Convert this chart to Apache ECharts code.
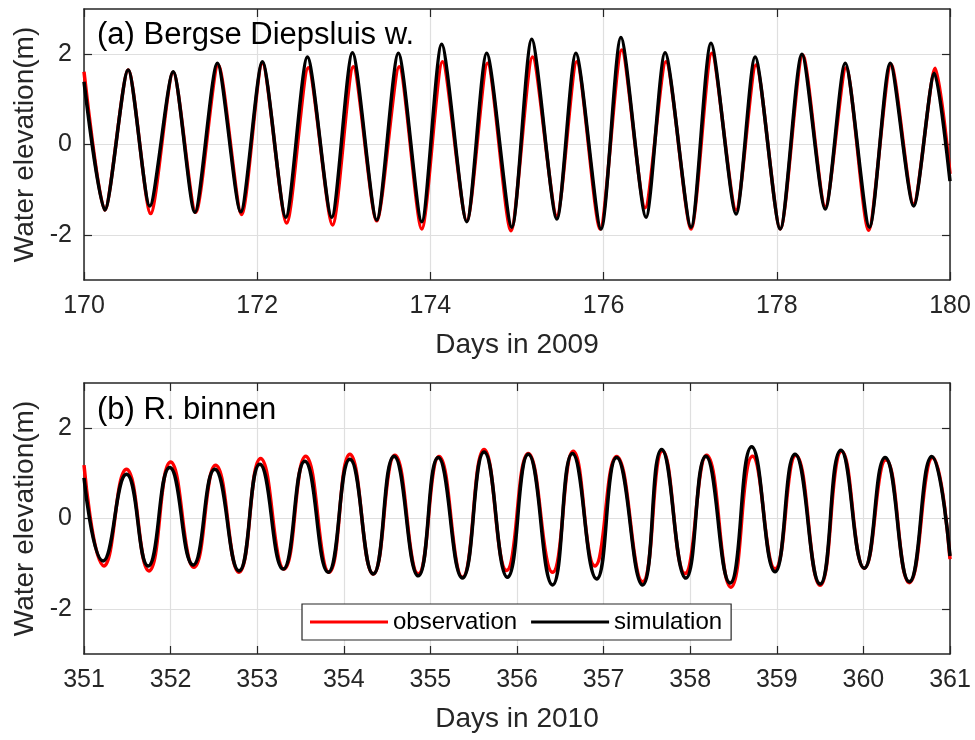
<!DOCTYPE html>
<html>
<head>
<meta charset="utf-8">
<script src="https://cdn.jsdelivr.net/npm/echarts@6/dist/echarts.min.js"></script>
<style>
  html, body { margin: 0; padding: 0; background: #fff; }
  #chart { width: 975px; height: 740px; }
</style>
</head>
<body>
<div id="chart"></div>
<script>
// panel (a): Bergse Diepsluis w., days in 2009 (high / low water)
var daysA_obs = [170.00, 170.24, 170.51, 170.77, 171.03, 171.29, 171.55, 171.82, 172.06, 172.34,
  172.59, 172.87, 173.11, 173.38, 173.64, 173.90, 174.14, 174.42, 174.66, 174.93,
  175.18, 175.46, 175.69, 175.96, 176.21, 176.48, 176.72, 177.01, 177.25, 177.53,
  177.76, 178.04, 178.30, 178.56, 178.80, 179.06, 179.32, 179.58, 179.83, 180.00];
var elevA_obs = [1.61, -1.45, 1.65, -1.53, 1.60, -1.50, 1.76, -1.55, 1.80, -1.74,
  1.70, -1.78, 1.72, -1.69, 1.72, -1.87, 1.83, -1.69, 1.80, -1.91,
  1.94, -1.58, 1.83, -1.87, 2.09, -1.40, 1.83, -1.87, 2.02, -1.45,
  1.76, -1.87, 1.98, -1.38, 1.70, -1.90, 1.77, -1.32, 1.69, -0.65];
var daysA_sim = [170.00, 170.24, 170.51, 170.76, 171.03, 171.28, 171.54, 171.81, 172.06, 172.33,
  172.58, 172.86, 173.10, 173.38, 173.63, 173.90, 174.13, 174.42, 174.65, 174.94,
  175.17, 175.46, 175.68, 175.97, 176.20, 176.49, 176.71, 177.01, 177.24, 177.53,
  177.75, 178.04, 178.29, 178.56, 178.79, 179.07, 179.31, 179.58, 179.82, 180.00];
var elevA_sim = [1.39, -1.45, 1.65, -1.36, 1.61, -1.50, 1.80, -1.49, 1.83, -1.61,
  1.94, -1.61, 2.03, -1.67, 2.02, -1.71, 2.22, -1.71, 2.02, -1.83,
  2.33, -1.65, 2.02, -1.87, 2.37, -1.61, 2.03, -1.83, 2.24, -1.54,
  1.94, -1.87, 2.00, -1.43, 1.80, -1.83, 1.80, -1.36, 1.58, -0.81];

// panel (b): R. binnen, days in 2010
var daysB_obs = [351.00, 351.23, 351.49, 351.75, 352.00, 352.27, 352.52, 352.79, 353.04, 353.31,
  353.56, 353.83, 354.07, 354.34, 354.59, 354.86, 355.10, 355.37, 355.62, 355.88,
  356.13, 356.41, 356.65, 356.90, 357.15, 357.45, 357.68, 357.94, 358.19, 358.47,
  358.72, 358.98, 359.22, 359.50, 359.75, 360.01, 360.26, 360.53, 360.80, 361.00];
var elevB_obs = [1.18, -1.05, 1.09, -1.16, 1.25, -1.08, 1.18, -1.19, 1.33, -1.12,
  1.38, -1.19, 1.42, -1.23, 1.40, -1.23, 1.37, -1.30, 1.53, -1.15,
  1.44, -1.19, 1.49, -1.05, 1.37, -1.40, 1.50, -1.22, 1.40, -1.52,
  1.38, -1.12, 1.40, -1.48, 1.49, -1.10, 1.30, -1.42, 1.35, -0.90];
var daysB_sim = [351.00, 351.22, 351.49, 351.74, 351.99, 352.26, 352.51, 352.79, 353.03, 353.30,
  353.55, 353.82, 354.07, 354.34, 354.58, 354.86, 355.09, 355.37, 355.62, 355.89,
  356.13, 356.41, 356.64, 356.92, 357.15, 357.45, 357.67, 357.95, 358.18, 358.46,
  358.71, 358.98, 359.21, 359.50, 359.74, 360.01, 360.25, 360.53, 360.79, 361.00];
var elevB_sim = [0.90, -0.94, 0.98, -1.05, 1.13, -1.03, 1.09, -1.16, 1.20, -1.12,
  1.27, -1.19, 1.31, -1.23, 1.38, -1.27, 1.35, -1.32, 1.47, -1.30,
  1.42, -1.47, 1.44, -1.34, 1.35, -1.47, 1.53, -1.32, 1.38, -1.43,
  1.59, -1.18, 1.42, -1.45, 1.51, -1.10, 1.35, -1.40, 1.37, -0.83];

var yTicks = [-2, 0, 2];

function pairs(xs, ys) {
  return xs.map(function (x, i) { return [x, ys[i]]; });
}

var FONT = 'Liberation Sans, Arial, sans-serif';
var AX = '#262626';
var GRIDC = '#dfdfdf';

function bottomX(idx, min, max, step, name) {
  return {
    gridIndex: idx, type: 'value', min: min, max: max, interval: step, position: 'bottom',
    axisLine: { show: true, onZero: false, lineStyle: { color: AX, width: 1.5 } },
    axisTick: { show: true, inside: true, length: 8, lineStyle: { color: AX, width: 1.2 } },
    axisLabel: { color: AX, fontSize: 25, margin: 14, fontFamily: FONT },
    splitLine: { show: true, lineStyle: { color: GRIDC, width: 1.2 } },
    name: name, nameLocation: 'middle', nameGap: 51,
    nameTextStyle: { color: AX, fontSize: 28, fontFamily: FONT }
  };
}
function topX(idx, min, max, step) {
  return {
    gridIndex: idx, type: 'value', min: min, max: max, interval: step, position: 'top',
    axisLine: { show: true, onZero: false, lineStyle: { color: AX, width: 1.5 } },
    axisTick: { show: true, inside: true, length: 8, lineStyle: { color: AX, width: 1.2 } },
    axisLabel: { show: false },
    splitLine: { show: false }
  };
}
function leftY(idx) {
  return {
    gridIndex: idx, type: 'value', min: -3, max: 3, position: 'left',
    axisLine: { show: true, onZero: false, lineStyle: { color: AX, width: 1.5 } },
    axisTick: { show: true, inside: true, length: 8, customValues: yTicks, lineStyle: { color: AX, width: 1.2 } },
    axisLabel: { color: AX, fontSize: 25, margin: 12, fontFamily: FONT, customValues: yTicks },
    splitLine: { show: true, lineStyle: { color: GRIDC, width: 1.2 } },
    name: 'Water elevation(m)', nameLocation: 'middle', nameGap: 36,
    nameTextStyle: { color: AX, fontSize: 28, fontFamily: FONT }
  };
}
function rightY(idx) {
  return {
    gridIndex: idx, type: 'value', min: -3, max: 3, position: 'right',
    axisLine: { show: true, onZero: false, lineStyle: { color: AX, width: 1.5 } },
    axisTick: { show: true, inside: true, length: 8, customValues: yTicks, lineStyle: { color: AX, width: 1.2 } },
    axisLabel: { show: false },
    splitLine: { show: false }
  };
}
function line(name, color, xi, yi, data, smooth) {
  return {
    name: name, type: 'line', xAxisIndex: xi, yAxisIndex: yi, data: data,
    smooth: smooth, symbol: 'none', lineStyle: { color: color, width: 3.5 },
    itemStyle: { color: color }, z: color === '#000000' ? 3 : 2
  };
}

var chart = echarts.init(document.getElementById('chart'));
chart.setOption({
  animation: false,
  backgroundColor: '#fff',
  title: [
    { text: '(a) Bergse Diepsluis w.', left: 97, top: 20, padding: 0,
      textStyle: { fontSize: 31, fontWeight: 'normal', color: '#000', fontFamily: FONT } },
    { text: '(b) R. binnen', left: 97, top: 395, padding: 0,
      textStyle: { fontSize: 31, fontWeight: 'normal', color: '#000', fontFamily: FONT } }
  ],
  grid: [
    { left: 84, top: 9, width: 866, height: 271 },
    { left: 84, top: 383, width: 866, height: 271 }
  ],
  legend: {
    data: ['observation', 'simulation'],
    left: 302, top: 604, orient: 'horizontal',
    icon: 'rect', itemWidth: 78, itemHeight: 3, itemGap: 14,
    padding: [6, 9, 6, 8],
    borderColor: AX, borderWidth: 1.2, backgroundColor: '#fff',
    textStyle: { fontSize: 24, color: '#000', fontFamily: FONT },
    z: 10
  },
  xAxis: [
    bottomX(0, 170, 180, 2, 'Days in 2009'), topX(0, 170, 180, 2),
    bottomX(1, 351, 361, 1, 'Days in 2010'), topX(1, 351, 361, 1)
  ],
  yAxis: [leftY(0), rightY(0), leftY(1), rightY(1)],
  series: [
    line('observation', '#ff0000', 0, 0, pairs(daysA_obs, elevA_obs), 0.25),
    line('simulation', '#000000', 0, 0, pairs(daysA_sim, elevA_sim), 0.25),
    line('observation', '#ff0000', 2, 2, pairs(daysB_obs, elevB_obs), 0.5),
    line('simulation', '#000000', 2, 2, pairs(daysB_sim, elevB_sim), 0.5)
  ]
});
</script>
</body>
</html>
